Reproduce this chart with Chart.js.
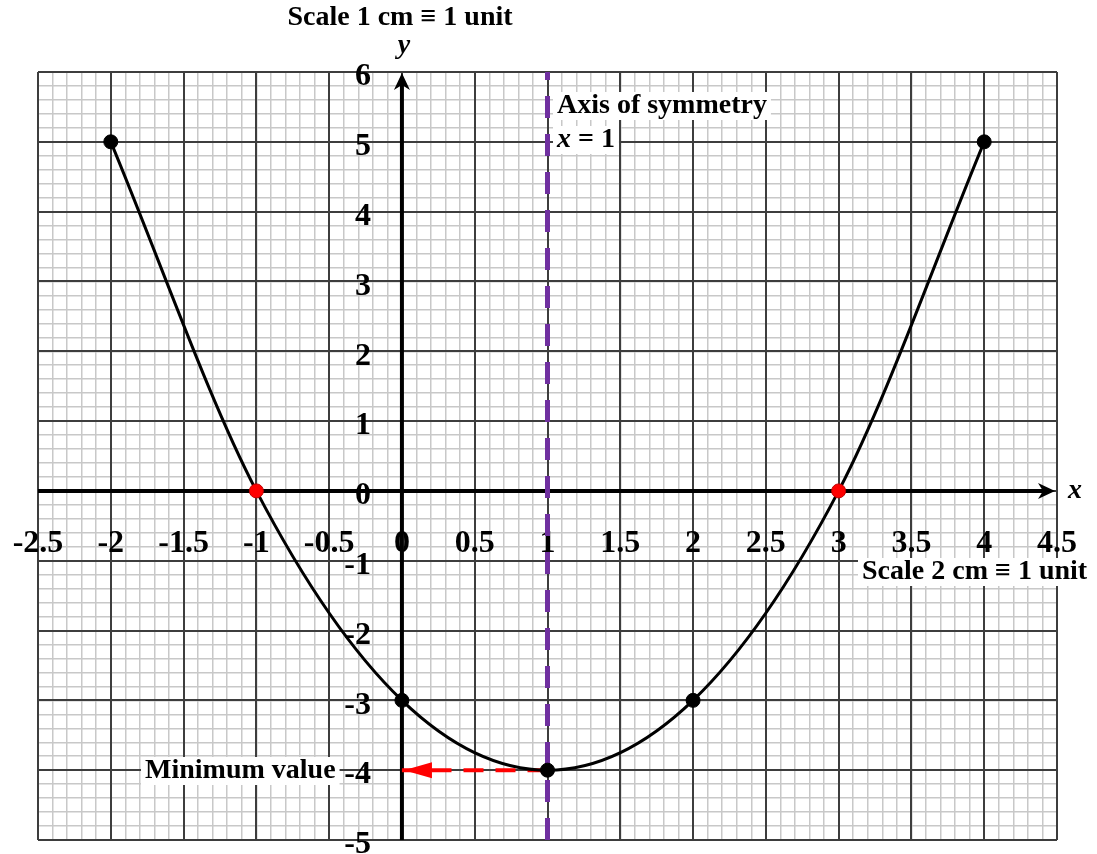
<!DOCTYPE html>
<html>
<head>
<meta charset="utf-8">
<script src="https://cdn.jsdelivr.net/npm/chart.js@4/dist/chart.umd.min.js"></script>
<style>
html,body{margin:0;padding:0;background:#fff;}
canvas{display:block;}
</style>
</head>
<body>
<canvas id="c" width="1097" height="854"></canvas>
<script>
// ---- data ----
const xValues = [-2, -1, 0, 1, 2, 3, 4];
const yValues = [5, 0, -3, -4, -3, 0, 5];
const xTickLabels = ['-2.5','-2','-1.5','-1','-0.5','0','0.5','1','1.5','2','2.5','3','3.5','4','4.5'];
const yTickLabels = ['6','5','4','3','2','1','0','-1','-2','-3','-4','-5'];
const xRange = [-2.5, 4.5];
const yRange = [-5, 6];
const symmetryX = 1;
const minimumPoint = [1, -4];

// ---- styles ----
const SERIF = '"Liberation Serif", "Times New Roman", serif';
const MINOR = '#c8c8c8';
const MAJOR = '#3d3d3d';

function isMajorX(v) { return Math.abs(v * 2 - Math.round(v * 2)) < 1e-6; }
function isMajorY(v) { return Math.abs(v - Math.round(v)) < 1e-6; }

const curveData = xValues.map((x, i) => ({ x: x, y: yValues[i] }));
const symmetryData = [{ x: symmetryX, y: yRange[0] }, { x: symmetryX, y: yRange[1] }];
const minimumData = [{ x: minimumPoint[0], y: minimumPoint[1] }, { x: 0, y: minimumPoint[1] }];

function seg(ctx, x1, y1, x2, y2) {
  ctx.beginPath(); ctx.moveTo(x1, y1); ctx.lineTo(x2, y2); ctx.stroke();
}

function boxedText(ctx, text, left, midY, font) {
  ctx.font = font;
  const w = ctx.measureText(text).width;
  ctx.fillStyle = '#fff';
  ctx.fillRect(left - 4, midY - 14, w + 8, 28);
  ctx.fillStyle = '#000';
  ctx.textAlign = 'left';
  ctx.textBaseline = 'middle';
  ctx.fillText(text, left, midY);
  return w;
}

const paperPlugin = {
  id: 'paper',
  beforeDatasetsDraw(chart) {
    const { ctx, chartArea: a, scales } = chart;
    const xs = scales.x, ys = scales.y;
    ctx.save();
    // major grid lines
    ctx.strokeStyle = MAJOR;
    ctx.lineWidth = 2;
    xs.ticks.forEach(t => {
      if (isMajorX(t.value)) {
        const px = Math.round(xs.getPixelForValue(t.value));
        seg(ctx, px, a.top, px, a.bottom);
      }
    });
    ys.ticks.forEach(t => {
      if (isMajorY(t.value)) {
        const py = Math.round(ys.getPixelForValue(t.value));
        seg(ctx, a.left, py, a.right, py);
      }
    });
    // axes
    const x0 = xs.getPixelForValue(0);
    const y0 = ys.getPixelForValue(0);
    ctx.strokeStyle = '#000';
    ctx.fillStyle = '#000';
    ctx.lineWidth = 4;
    seg(ctx, a.left, y0, a.right - 6, y0);
    seg(ctx, x0, a.bottom, x0, a.top + 6);
    // arrowheads
    const tipX = a.right - 2;
    ctx.beginPath();
    ctx.moveTo(tipX, y0);
    ctx.lineTo(tipX - 17, y0 - 8);
    ctx.lineTo(tipX - 12, y0);
    ctx.lineTo(tipX - 17, y0 + 8);
    ctx.closePath(); ctx.fill();
    const tipY = a.top + 1;
    ctx.beginPath();
    ctx.moveTo(x0, tipY);
    ctx.lineTo(x0 - 8, tipY + 17);
    ctx.lineTo(x0, tipY + 12);
    ctx.lineTo(x0 + 8, tipY + 17);
    ctx.closePath(); ctx.fill();
    // tick labels
    ctx.font = 'bold 32px ' + SERIF;
    ctx.fillStyle = '#000';
    ctx.textAlign = 'center';
    ctx.textBaseline = 'alphabetic';
    xTickLabels.forEach(lbl => {
      const v = Number(lbl);
      ctx.fillText(lbl, xs.getPixelForValue(v), y0 + 61);
    });
    ctx.textAlign = 'right';
    ctx.textBaseline = 'middle';
    yTickLabels.forEach(lbl => {
      const v = Number(lbl);
      ctx.fillText(lbl, x0 - 31, ys.getPixelForValue(v) + 5);
    });
    ctx.restore();
  },
  afterDatasetsDraw(chart) {
    const { ctx, chartArea: a, scales } = chart;
    const xs = scales.x, ys = scales.y;
    ctx.save();
    // arrowhead of minimum-value pointer
    const ax = xs.getPixelForValue(0) + 2;
    const ay = ys.getPixelForValue(minimumPoint[1]);
    ctx.fillStyle = '#ff0000';
    ctx.beginPath();
    ctx.moveTo(ax, ay);
    ctx.lineTo(ax + 28, ay - 8);
    ctx.lineTo(ax + 28, ay + 8);
    ctx.closePath(); ctx.fill();

    // annotations
    ctx.fillStyle = '#000';
    ctx.font = 'bold 28px ' + SERIF;
    ctx.textAlign = 'center';
    ctx.textBaseline = 'middle';
    ctx.fillText('Scale 1 cm \u2261 1 unit', 400, 18);
    ctx.font = 'italic bold 28px ' + SERIF;
    ctx.fillText('y', 404, 46);
    ctx.fillText('x', 1075, 491);

    const bf = 'bold 28px ' + SERIF;
    boxedText(ctx, 'Axis of symmetry', 557, 106, bf);
    // "x = 1"
    ctx.font = 'italic bold 28px ' + SERIF;
    const wx = ctx.measureText('x').width;
    ctx.font = bf;
    const wr = ctx.measureText(' = 1').width;
    ctx.fillStyle = '#fff';
    ctx.fillRect(553, 126, wx + wr + 8, 28);
    ctx.fillStyle = '#000';
    ctx.textAlign = 'left';
    ctx.font = 'italic bold 28px ' + SERIF;
    ctx.fillText('x', 557, 140);
    ctx.font = bf;
    ctx.fillText(' = 1', 557 + wx, 140);

    boxedText(ctx, 'Scale 2 cm \u2261 1 unit', 862, 572, bf);
    boxedText(ctx, 'Minimum value', 145, 771, bf);
    ctx.restore();
  }
};

new Chart(document.getElementById('c'), {
  type: 'scatter',
  data: {
    datasets: [
      {
        label: 'y = x\u00b2 - 2x - 3',
        data: curveData,
        showLine: true,
        borderColor: '#000',
        borderWidth: 3,
        cubicInterpolationMode: 'monotone',
        pointRadius: 7,
        pointBackgroundColor: c => (c.raw && c.raw.y === 0 ? '#ff0000' : '#000'),
        pointBorderColor: c => (c.raw && c.raw.y === 0 ? '#c00000' : '#000'),
        pointBorderWidth: 1,
        order: 0
      },
      {
        label: 'Axis of symmetry',
        data: symmetryData,
        showLine: true,
        borderColor: '#7030a0',
        borderWidth: 5,
        borderDash: [22, 16],
        pointRadius: 0,
        order: 2
      },
      {
        label: 'Minimum value',
        data: minimumData,
        showLine: true,
        borderColor: '#ff0000',
        borderWidth: 4,
        borderDash: [20, 12],
        pointRadius: 0,
        order: 1
      }
    ]
  },
  options: {
    responsive: false,
    animation: false,
    events: [],
    layout: { padding: { left: 38, right: 40, top: 72, bottom: 14 } },
    plugins: { legend: { display: false }, tooltip: { enabled: false } },
    scales: {
      x: {
        type: 'linear',
        min: xRange[0],
        max: xRange[1],
        ticks: { stepSize: 0.1, display: false },
        grid: { color: MINOR, lineWidth: 1.5, drawTicks: false },
        border: { display: false }
      },
      y: {
        type: 'linear',
        min: yRange[0],
        max: yRange[1],
        ticks: { stepSize: 0.2, display: false },
        grid: { color: MINOR, lineWidth: 1.5, drawTicks: false },
        border: { display: false }
      }
    }
  },
  plugins: [paperPlugin]
});
</script>
</body>
</html>
